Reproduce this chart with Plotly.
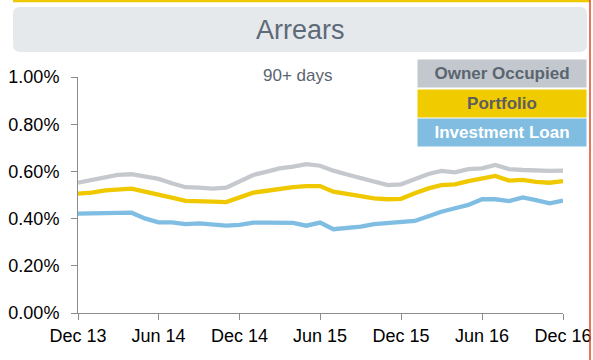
import plotly.graph_objects as go
import pandas as pd

# ---- data (values in %) ----
months = pd.date_range("2013-12-01", periods=37, freq="MS")
owner_occupied = [0.552, 0.564, 0.578, 0.585, 0.588, 0.576, 0.568, 0.550, 0.533, 0.531,
                  0.527, 0.531, 0.556, 0.585, 0.599, 0.613, 0.620, 0.631, 0.624, 0.603,
                  0.587, 0.571, 0.554, 0.542, 0.545, 0.566, 0.589, 0.602, 0.596, 0.610,
                  0.613, 0.627, 0.610, 0.606, 0.603, 0.602, 0.603]
portfolio = [0.506, 0.510, 0.520, 0.524, 0.527, 0.514, 0.503, 0.489, 0.475, 0.475,
             0.472, 0.470, 0.489, 0.510, 0.518, 0.527, 0.533, 0.538, 0.538, 0.514,
             0.503, 0.493, 0.486, 0.482, 0.484, 0.507, 0.528, 0.542, 0.545, 0.559,
             0.571, 0.581, 0.561, 0.564, 0.556, 0.552, 0.559]
investment_loan = [0.421, 0.421, 0.421, 0.421, 0.425, 0.401, 0.384, 0.384, 0.377, 0.380,
                   0.377, 0.370, 0.373, 0.383, 0.383, 0.383, 0.382, 0.370, 0.383, 0.355,
                   0.360, 0.366, 0.377, 0.381, 0.386, 0.390, 0.410, 0.429, 0.444, 0.458,
                   0.482, 0.482, 0.474, 0.490, 0.478, 0.465, 0.476]
series_names = ["Owner Occupied", "Portfolio", "Investment Loan"]
tick_dates = ["2013-12-01", "2014-06-01", "2014-12-01", "2015-06-01",
              "2015-12-01", "2016-06-01", "2016-12-01"]
tick_labels = ["Dec 13", "Jun 14", "Dec 14", "Jun 15", "Dec 15", "Jun 16", "Dec 16"]
y_ticks = [0, 0.2, 0.4, 0.6, 0.8, 1.0]
y_tick_labels = ["0.00%", "0.20%", "0.40%", "0.60%", "0.80%", "1.00%"]

# ---- styling ----
W, H = 593, 360
L, R, T, B = 78, 30, 77, 47
PW, PH = W - L - R, H - T - B
FONT = "Liberation Sans, Arial, sans-serif"
colors = ["#c5c9ce", "#f0c800", "#80bde2"]
box_colors = ["#c3c8ce", "#f0cb00", "#80bde0"]
box_text = ["#5a6570", "#5e5e5e", "#ffffff"]


def px(x):
    return (x - L) / PW


def py(y):
    return (H - B - y) / PH


fig = go.Figure()
for name, vals, c in zip(series_names, [owner_occupied, portfolio, investment_loan], colors):
    fig.add_trace(go.Scatter(x=months, y=vals, mode="lines", name=name,
                             line=dict(color=c, width=4.3), showlegend=False,
                             hoverinfo="skip"))

# title box (rounded)
x0, x1, y0, y1, r = 13, 587, 7, 52, 7
rx, ry = r / PW, r / PH
X0, X1, Y0, Y1 = px(x0), px(x1), py(y0), py(y1)
path = (f"M {X0+rx},{Y0} L {X1-rx},{Y0} Q {X1},{Y0} {X1},{Y0-ry} "
        f"L {X1},{Y1+ry} Q {X1},{Y1} {X1-rx},{Y1} L {X0+rx},{Y1} "
        f"Q {X0},{Y1} {X0},{Y1+ry} L {X0},{Y0-ry} Q {X0},{Y0} {X0+rx},{Y0} Z")
shapes = [
    dict(type="path", xref="paper", yref="paper", path=path,
         fillcolor="#e6e9ec", line=dict(width=0), layer="below"),
    dict(type="line", xref="paper", yref="paper", x0=px(13), x1=px(590),
         y0=py(1), y1=py(1), line=dict(color="#f0c800", width=2.5)),
    dict(type="line", xref="paper", yref="paper", x0=px(590), x1=px(590),
         y0=py(0), y1=py(360), line=dict(color="#e2461e", width=1.5)),
]
annotations = [
    dict(text="Arrears", xref="paper", yref="paper", x=px(300), y=py(30),
         showarrow=False, xanchor="center", yanchor="middle",
         font=dict(family=FONT, size=27, color="#5d6a78")),
    dict(text="90+ days", xref="paper", yref="paper", x=px(297), y=py(75),
         showarrow=False, xanchor="center", yanchor="middle",
         font=dict(family=FONT, size=17, color="#5a6470")),
]
box_centers = [73.5, 103.5, 132.5]
for name, bc, tc, cy in zip(series_names, box_colors, box_text, box_centers):
    annotations.append(dict(text=f"<b>{name}</b>", xref="paper", yref="paper",
                            x=px(502), y=py(cy), showarrow=False,
                            xanchor="center", yanchor="middle",
                            width=168, height=26.5, borderpad=0, bgcolor=bc,
                            font=dict(family=FONT, size=17, color=tc)))

fig.update_layout(
    width=W, height=H, autosize=False,
    margin=dict(l=L, r=R, t=T, b=B, pad=0, autoexpand=False),
    paper_bgcolor="white", plot_bgcolor="white",
    shapes=shapes, annotations=annotations,
    showlegend=False, hovermode=False,
    xaxis=dict(range=[months[0], months[-1]], tickvals=tick_dates, ticktext=tick_labels,
               showgrid=False, zeroline=False, showline=True, linecolor="#8c8c8c",
               linewidth=1, ticks="outside", ticklen=6, tickcolor="#8c8c8c",
               automargin=False,
               tickfont=dict(family=FONT, size=18, color="#000000")),
    yaxis=dict(range=[0, 1.0], tickvals=y_ticks, ticktext=y_tick_labels,
               showgrid=False, zeroline=False, showline=True, linecolor="#8c8c8c",
               linewidth=1, ticks="outside", ticklen=6, tickcolor="#8c8c8c",
               ticklabelstandoff=8, automargin=False,
               tickfont=dict(family=FONT, size=18, color="#000000")),
)

fig.write_html("out.html",
               config={"displayModeBar": False, "responsive": False, "staticPlot": True},
               default_width="593px", default_height="360px",
               post_script="document.body.style.margin='0';document.body.style.overflow='hidden';")
